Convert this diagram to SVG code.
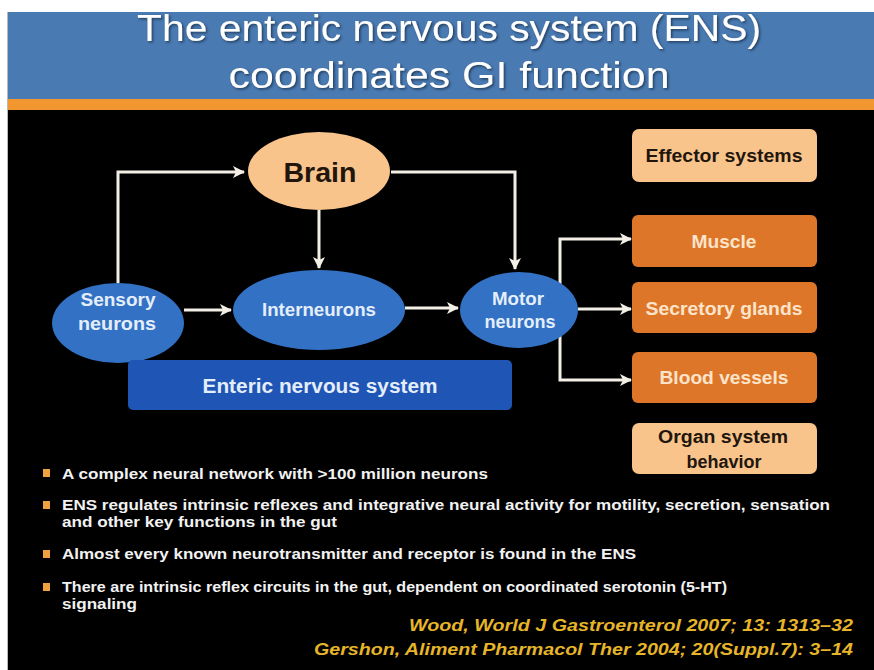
<svg xmlns="http://www.w3.org/2000/svg" width="874" height="670" viewBox="0 0 874 670">
<style>
text{font-family:"Liberation Sans",Arial,sans-serif;font-weight:bold}
.title{font-weight:normal;font-size:37px;fill:#ffffff;text-anchor:middle}
.en{fill:#3271c3}
.et{fill:#e4eefa;font-size:18px;text-anchor:middle}
.peach{fill:#f8c48c}
.orng{fill:#de7629}
.dk{fill:#22160c;text-anchor:middle}
.lt{fill:#fbe4c9;text-anchor:middle;font-size:18px}
.bul{fill:#f2f2f2;font-size:15px}
.sq{fill:#f0a23e}
.ref{fill:#e6b52a;font-style:italic;font-size:16px;text-anchor:end}
.con{fill:none;stroke:#f3efe6;stroke-width:3}
</style>
<defs>
<marker id="ah" viewBox="0 0 12 12" refX="11" refY="6" markerWidth="12" markerHeight="12" markerUnits="userSpaceOnUse" orient="auto">
<path d="M0,0 L12,6 L0,12 L3,6 z" fill="#f3efe6"/>
</marker>
<filter id="sh" x="-5%" y="-20%" width="110%" height="140%">
<feDropShadow dx="1.5" dy="1.5" stdDeviation="1" flood-color="#1a2f4a" flood-opacity="0.8"/>
</filter>
</defs>
<rect x="0" y="0" width="874" height="670" fill="#ffffff"/>
<rect x="8" y="12" width="866" height="88" fill="#4a7ab2"/>
<rect x="8" y="99" width="866" height="12" fill="#f2962f"/>
<rect x="8" y="110" width="866" height="560" fill="#000000"/>
<line x1="7.5" y1="12" x2="7.5" y2="670" stroke="#b8b8b8" stroke-width="1"/>
<g id="title" filter="url(#sh)">
<text class="title" x="449" y="41" textLength="624" lengthAdjust="spacingAndGlyphs">The enteric nervous system (ENS)</text>
<text class="title" x="449" y="88" textLength="441" lengthAdjust="spacingAndGlyphs">coordinates GI function</text>
</g>
<g id="connectors">
<path class="con" d="M118,283 V172 H244" marker-end="url(#ah)"/>
<path class="con" d="M319,210 V268" marker-end="url(#ah)"/>
<path class="con" d="M391,172 H515 V269" marker-end="url(#ah)"/>
<path class="con" d="M184,310 H231" marker-end="url(#ah)"/>
<path class="con" d="M405,308 H458" marker-end="url(#ah)"/>
<path class="con" d="M560,284 V239 H631" marker-end="url(#ah)"/>
<path class="con" d="M578,309 H631" marker-end="url(#ah)"/>
<path class="con" d="M560,335 V380 H631" marker-end="url(#ah)"/>
</g>
<g id="brain">
<ellipse cx="319" cy="171" rx="71" ry="39" class="peach"/>
<text class="dk" x="320" y="182" font-size="28" textLength="73" lengthAdjust="spacingAndGlyphs">Brain</text>
</g>
<g id="sensory">
<ellipse cx="118" cy="323" rx="66" ry="40" class="en"/>
<text class="et" x="118" y="306" textLength="75" lengthAdjust="spacingAndGlyphs">Sensory</text>
<text class="et" x="117" y="330" textLength="78" lengthAdjust="spacingAndGlyphs">neurons</text>
</g>
<g id="interneurons">
<ellipse cx="319" cy="310" rx="86" ry="40" class="en"/>
<text class="et" x="319" y="316" textLength="114" lengthAdjust="spacingAndGlyphs">Interneurons</text>
</g>
<g id="motor">
<ellipse cx="519" cy="310" rx="59" ry="38" class="en"/>
<text class="et" x="518" y="305" textLength="52" lengthAdjust="spacingAndGlyphs">Motor</text>
<text class="et" x="520" y="328" textLength="71" lengthAdjust="spacingAndGlyphs">neurons</text>
</g>
<g id="ens">
<rect x="128" y="360" width="384" height="50" rx="5" fill="#1f55b5"/>
<text x="320" y="393" fill="#e4eefa" font-size="20" text-anchor="middle" textLength="235" lengthAdjust="spacingAndGlyphs">Enteric nervous system</text>
</g>
<g id="effector">
<rect x="632" y="129" width="185" height="53" rx="7" class="peach"/>
<text class="dk" x="724" y="162" font-size="18" textLength="157" lengthAdjust="spacingAndGlyphs">Effector systems</text>
</g>
<g id="muscle">
<rect x="632" y="215" width="185" height="52" rx="6" class="orng"/>
<text class="lt" x="724" y="248" textLength="65" lengthAdjust="spacingAndGlyphs">Muscle</text>
</g>
<g id="secretory">
<rect x="632" y="282" width="185" height="51" rx="6" class="orng"/>
<text class="lt" x="724" y="315" textLength="157" lengthAdjust="spacingAndGlyphs">Secretory glands</text>
</g>
<g id="blood">
<rect x="632" y="352" width="185" height="51" rx="6" class="orng"/>
<text class="lt" x="724" y="384" textLength="129" lengthAdjust="spacingAndGlyphs">Blood vessels</text>
</g>
<g id="organ">
<rect x="632" y="423" width="185" height="51" rx="7" class="peach"/>
<text class="dk" x="723" y="443" font-size="18" textLength="130" lengthAdjust="spacingAndGlyphs">Organ system</text>
<text class="dk" x="724" y="468" font-size="18" textLength="75" lengthAdjust="spacingAndGlyphs">behavior</text>
</g>
<g id="bullets">
<rect class="sq" x="43" y="469" width="7" height="8"/>
<text class="bul" x="62" y="479" textLength="426" lengthAdjust="spacingAndGlyphs">A complex neural network with &gt;100 million neurons</text>
<rect class="sq" x="43" y="501" width="7" height="8"/>
<text class="bul" x="62" y="510" textLength="768" lengthAdjust="spacingAndGlyphs">ENS regulates intrinsic reflexes and integrative neural activity for motility, secretion, sensation</text>
<text class="bul" x="62" y="527" textLength="275" lengthAdjust="spacingAndGlyphs">and other key functions in the gut</text>
<rect class="sq" x="43" y="550" width="7" height="8"/>
<text class="bul" x="62" y="559" textLength="574" lengthAdjust="spacingAndGlyphs">Almost every known neurotransmitter and receptor is found in the ENS</text>
<rect class="sq" x="43" y="583" width="7" height="8"/>
<text class="bul" x="62" y="592" textLength="665" lengthAdjust="spacingAndGlyphs">There are intrinsic reflex circuits in the gut, dependent on coordinated serotonin (5-HT)</text>
<text class="bul" x="62" y="609" textLength="75" lengthAdjust="spacingAndGlyphs">signaling</text>
</g>
<g id="references">
<text class="ref" x="853" y="631" textLength="444" lengthAdjust="spacingAndGlyphs">Wood, World J Gastroenterol 2007; 13: 1313–32</text>
<text class="ref" x="853" y="655" textLength="539" lengthAdjust="spacingAndGlyphs">Gershon, Aliment Pharmacol Ther 2004; 20(Suppl.7): 3–14</text>
</g>
</svg>
